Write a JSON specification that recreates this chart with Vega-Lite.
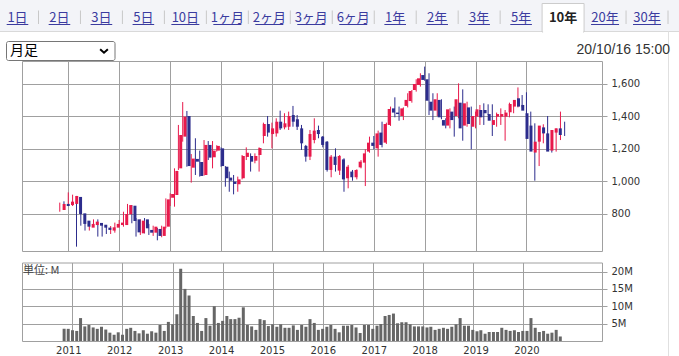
{
  "$schema": "https://vega.github.io/schema/vega-lite/v6.json",
  "width": 679,
  "height": 356,
  "autosize": {"type": "none"},
  "padding": 0,
  "background": "#ffffff",
  "config": {
    "view": {"stroke": null},
    "axis": {"domainColor": "#a0a0a0", "gridColor": "#a0a0a0", "tickColor": "#a0a0a0", "labelColor": "#333333", "labelFont": "DejaVu Sans", "labelFontSize": 10, "domainWidth": 1, "gridWidth": 1, "tickWidth": 1},
    "text": {"font": "Noto Sans CJK JP"}
  },
  "datasets": {
    "tabs": [
      {"label": "1日"}, {"label": "2日"}, {"label": "3日"}, {"label": "5日"}, {"label": "10日"},
      {"label": "1ヶ月"}, {"label": "2ヶ月"}, {"label": "3ヶ月"}, {"label": "6ヶ月"},
      {"label": "1年"}, {"label": "2年"}, {"label": "3年"}, {"label": "5年"}, {"label": "10年"}, {"label": "20年"}, {"label": "30年"}
    ],
    "candles": [
      {"d": "2010/11/01", "o": 825, "h": 870, "l": 814, "c": 862, "v": 3.5},
      {"d": "2010/12/01", "o": 862, "h": 878, "l": 841, "c": 849, "v": 3.5},
      {"d": "2011/01/01", "o": 855, "h": 933, "l": 849, "c": 876, "v": 3.1},
      {"d": "2011/02/01", "o": 862, "h": 919, "l": 849, "c": 911, "v": 2.9},
      {"d": "2011/03/01", "o": 905, "h": 911, "l": 599, "c": 800, "v": 6.6},
      {"d": "2011/04/01", "o": 804, "h": 819, "l": 728, "c": 739, "v": 4.2},
      {"d": "2011/05/01", "o": 759, "h": 767, "l": 698, "c": 722, "v": 4.6},
      {"d": "2011/06/01", "o": 716, "h": 747, "l": 698, "c": 739, "v": 3.9},
      {"d": "2011/07/01", "o": 732, "h": 767, "l": 726, "c": 753, "v": 3.5},
      {"d": "2011/08/01", "o": 745, "h": 767, "l": 661, "c": 728, "v": 4.1},
      {"d": "2011/09/01", "o": 734, "h": 743, "l": 661, "c": 716, "v": 3.3},
      {"d": "2011/10/01", "o": 716, "h": 728, "l": 677, "c": 702, "v": 2.4},
      {"d": "2011/11/01", "o": 698, "h": 726, "l": 677, "c": 718, "v": 1.8},
      {"d": "2011/12/01", "o": 716, "h": 747, "l": 685, "c": 739, "v": 2.5},
      {"d": "2012/01/01", "o": 732, "h": 763, "l": 722, "c": 747, "v": 1.8},
      {"d": "2012/02/01", "o": 732, "h": 814, "l": 722, "c": 800, "v": 3.5},
      {"d": "2012/03/01", "o": 798, "h": 862, "l": 788, "c": 855, "v": 3.8},
      {"d": "2012/04/01", "o": 851, "h": 855, "l": 743, "c": 757, "v": 2.9},
      {"d": "2012/05/01", "o": 767, "h": 775, "l": 661, "c": 687, "v": 2.2},
      {"d": "2012/06/01", "o": 681, "h": 767, "l": 671, "c": 759, "v": 3.1},
      {"d": "2012/07/01", "o": 767, "h": 775, "l": 681, "c": 712, "v": 2.1},
      {"d": "2012/08/01", "o": 702, "h": 739, "l": 671, "c": 685, "v": 2.8},
      {"d": "2012/09/01", "o": 685, "h": 728, "l": 665, "c": 722, "v": 2.4},
      {"d": "2012/10/01", "o": 708, "h": 714, "l": 638, "c": 665, "v": 4.6},
      {"d": "2012/11/01", "o": 665, "h": 728, "l": 657, "c": 722, "v": 2.9},
      {"d": "2012/12/01", "o": 722, "h": 896, "l": 712, "c": 890, "v": 5.5},
      {"d": "2013/01/01", "o": 900, "h": 927, "l": 849, "c": 923, "v": 4.8},
      {"d": "2013/02/01", "o": 917, "h": 1081, "l": 845, "c": 1065, "v": 7.7},
      {"d": "2013/03/01", "o": 1081, "h": 1348, "l": 1071, "c": 1286, "v": 20.8},
      {"d": "2013/04/01", "o": 1276, "h": 1489, "l": 1245, "c": 1399, "v": 15.0},
      {"d": "2013/05/01", "o": 1403, "h": 1434, "l": 1091, "c": 1095, "v": 13.1},
      {"d": "2013/06/01", "o": 1085, "h": 1169, "l": 993, "c": 1141, "v": 7.2},
      {"d": "2013/07/01", "o": 1139, "h": 1266, "l": 1040, "c": 1122, "v": 5.2},
      {"d": "2013/08/01", "o": 1120, "h": 1190, "l": 1030, "c": 1034, "v": 2.9},
      {"d": "2013/09/01", "o": 1040, "h": 1255, "l": 1036, "c": 1225, "v": 6.6},
      {"d": "2013/10/01", "o": 1225, "h": 1249, "l": 1132, "c": 1147, "v": 4.4},
      {"d": "2013/11/01", "o": 1149, "h": 1249, "l": 1081, "c": 1190, "v": 10.0},
      {"d": "2013/12/01", "o": 1190, "h": 1223, "l": 1184, "c": 1219, "v": 5.2},
      {"d": "2014/01/01", "o": 1204, "h": 1210, "l": 1091, "c": 1095, "v": 5.8},
      {"d": "2014/02/01", "o": 1091, "h": 1095, "l": 968, "c": 1020, "v": 7.2},
      {"d": "2014/03/01", "o": 1024, "h": 1061, "l": 937, "c": 1005, "v": 6.3},
      {"d": "2014/04/01", "o": 999, "h": 1040, "l": 921, "c": 985, "v": 6.3},
      {"d": "2014/05/01", "o": 983, "h": 1030, "l": 937, "c": 1013, "v": 6.7},
      {"d": "2014/06/01", "o": 1020, "h": 1163, "l": 1013, "c": 1157, "v": 9.7},
      {"d": "2014/07/01", "o": 1151, "h": 1210, "l": 1132, "c": 1177, "v": 4.6},
      {"d": "2014/08/01", "o": 1157, "h": 1173, "l": 1061, "c": 1122, "v": 4.2},
      {"d": "2014/09/01", "o": 1128, "h": 1173, "l": 1112, "c": 1157, "v": 3.2},
      {"d": "2014/10/01", "o": 1163, "h": 1210, "l": 1061, "c": 1206, "v": 6.3},
      {"d": "2014/11/01", "o": 1280, "h": 1362, "l": 1235, "c": 1354, "v": 6.0},
      {"d": "2014/12/01", "o": 1354, "h": 1403, "l": 1276, "c": 1301, "v": 4.3},
      {"d": "2015/01/01", "o": 1292, "h": 1362, "l": 1204, "c": 1327, "v": 4.8},
      {"d": "2015/02/01", "o": 1296, "h": 1389, "l": 1276, "c": 1368, "v": 4.1},
      {"d": "2015/03/01", "o": 1368, "h": 1436, "l": 1317, "c": 1327, "v": 4.8},
      {"d": "2015/04/01", "o": 1333, "h": 1420, "l": 1321, "c": 1358, "v": 3.8},
      {"d": "2015/05/01", "o": 1337, "h": 1430, "l": 1317, "c": 1403, "v": 3.8},
      {"d": "2015/06/01", "o": 1409, "h": 1465, "l": 1337, "c": 1368, "v": 4.5},
      {"d": "2015/07/01", "o": 1383, "h": 1409, "l": 1317, "c": 1337, "v": 3.2},
      {"d": "2015/08/01", "o": 1327, "h": 1348, "l": 1194, "c": 1235, "v": 4.6},
      {"d": "2015/09/01", "o": 1219, "h": 1225, "l": 1122, "c": 1153, "v": 4.1},
      {"d": "2015/10/01", "o": 1153, "h": 1317, "l": 1132, "c": 1292, "v": 6.3},
      {"d": "2015/11/01", "o": 1255, "h": 1389, "l": 1235, "c": 1313, "v": 5.2},
      {"d": "2015/12/01", "o": 1317, "h": 1344, "l": 1266, "c": 1292, "v": 3.2},
      {"d": "2016/01/01", "o": 1276, "h": 1280, "l": 1210, "c": 1225, "v": 3.5},
      {"d": "2016/02/01", "o": 1245, "h": 1249, "l": 1061, "c": 1071, "v": 4.1},
      {"d": "2016/03/01", "o": 1071, "h": 1163, "l": 1026, "c": 1153, "v": 4.6},
      {"d": "2016/04/01", "o": 1153, "h": 1204, "l": 1061, "c": 1102, "v": 3.5},
      {"d": "2016/05/01", "o": 1067, "h": 1163, "l": 1040, "c": 1157, "v": 2.5},
      {"d": "2016/06/01", "o": 1136, "h": 1143, "l": 937, "c": 1013, "v": 4.4},
      {"d": "2016/07/01", "o": 1020, "h": 1102, "l": 958, "c": 1091, "v": 4.4},
      {"d": "2016/08/01", "o": 1061, "h": 1071, "l": 1005, "c": 1026, "v": 4.6},
      {"d": "2016/09/01", "o": 1026, "h": 1075, "l": 1013, "c": 1071, "v": 3.9},
      {"d": "2016/10/01", "o": 1087, "h": 1132, "l": 1081, "c": 1122, "v": 2.3},
      {"d": "2016/11/01", "o": 1116, "h": 1198, "l": 972, "c": 1173, "v": 4.6},
      {"d": "2016/12/01", "o": 1184, "h": 1276, "l": 1177, "c": 1239, "v": 4.6},
      {"d": "2017/01/01", "o": 1239, "h": 1280, "l": 1198, "c": 1219, "v": 3.5},
      {"d": "2017/02/01", "o": 1204, "h": 1313, "l": 1153, "c": 1296, "v": 4.4},
      {"d": "2017/03/01", "o": 1301, "h": 1368, "l": 1210, "c": 1225, "v": 4.9},
      {"d": "2017/04/01", "o": 1239, "h": 1362, "l": 1231, "c": 1354, "v": 7.2},
      {"d": "2017/05/01", "o": 1348, "h": 1461, "l": 1342, "c": 1446, "v": 7.5},
      {"d": "2017/06/01", "o": 1450, "h": 1518, "l": 1395, "c": 1424, "v": 7.9},
      {"d": "2017/07/01", "o": 1424, "h": 1461, "l": 1374, "c": 1415, "v": 5.1},
      {"d": "2017/08/01", "o": 1403, "h": 1456, "l": 1378, "c": 1450, "v": 5.4},
      {"d": "2017/09/01", "o": 1465, "h": 1543, "l": 1456, "c": 1502, "v": 5.4},
      {"d": "2017/10/01", "o": 1495, "h": 1563, "l": 1485, "c": 1557, "v": 4.8},
      {"d": "2017/11/01", "o": 1563, "h": 1629, "l": 1553, "c": 1600, "v": 4.2},
      {"d": "2017/12/01", "o": 1594, "h": 1666, "l": 1584, "c": 1635, "v": 4.2},
      {"d": "2018/01/01", "o": 1655, "h": 1707, "l": 1620, "c": 1625, "v": 4.2},
      {"d": "2018/02/01", "o": 1629, "h": 1666, "l": 1409, "c": 1497, "v": 3.9},
      {"d": "2018/03/01", "o": 1491, "h": 1543, "l": 1378, "c": 1436, "v": 4.1},
      {"d": "2018/04/01", "o": 1436, "h": 1543, "l": 1403, "c": 1506, "v": 3.2},
      {"d": "2018/05/01", "o": 1502, "h": 1506, "l": 1383, "c": 1395, "v": 3.5},
      {"d": "2018/06/01", "o": 1378, "h": 1389, "l": 1327, "c": 1344, "v": 3.8},
      {"d": "2018/07/01", "o": 1344, "h": 1450, "l": 1327, "c": 1444, "v": 3.5},
      {"d": "2018/08/01", "o": 1430, "h": 1461, "l": 1276, "c": 1378, "v": 4.1},
      {"d": "2018/09/01", "o": 1403, "h": 1604, "l": 1389, "c": 1506, "v": 4.8},
      {"d": "2018/10/01", "o": 1485, "h": 1567, "l": 1251, "c": 1327, "v": 6.6},
      {"d": "2018/11/01", "o": 1344, "h": 1491, "l": 1337, "c": 1481, "v": 4.4},
      {"d": "2018/12/01", "o": 1456, "h": 1461, "l": 1198, "c": 1354, "v": 4.4},
      {"d": "2019/01/01", "o": 1337, "h": 1430, "l": 1327, "c": 1403, "v": 3.2},
      {"d": "2019/02/01", "o": 1399, "h": 1471, "l": 1348, "c": 1444, "v": 2.8},
      {"d": "2019/03/01", "o": 1440, "h": 1481, "l": 1348, "c": 1395, "v": 3.1},
      {"d": "2019/04/01", "o": 1440, "h": 1475, "l": 1409, "c": 1420, "v": 2.1},
      {"d": "2019/05/01", "o": 1415, "h": 1475, "l": 1280, "c": 1374, "v": 2.6},
      {"d": "2019/06/01", "o": 1348, "h": 1424, "l": 1337, "c": 1378, "v": 2.6},
      {"d": "2019/07/01", "o": 1399, "h": 1450, "l": 1348, "c": 1415, "v": 2.6},
      {"d": "2019/08/01", "o": 1399, "h": 1440, "l": 1251, "c": 1415, "v": 3.8},
      {"d": "2019/09/01", "o": 1399, "h": 1485, "l": 1395, "c": 1424, "v": 3.2},
      {"d": "2019/10/01", "o": 1426, "h": 1485, "l": 1420, "c": 1477, "v": 2.9},
      {"d": "2019/11/01", "o": 1461, "h": 1579, "l": 1456, "c": 1502, "v": 3.1},
      {"d": "2019/12/01", "o": 1512, "h": 1532, "l": 1456, "c": 1461, "v": 2.6},
      {"d": "2020/01/01", "o": 1471, "h": 1549, "l": 1409, "c": 1436, "v": 2.9},
      {"d": "2020/02/01", "o": 1420, "h": 1430, "l": 1255, "c": 1262, "v": 2.9},
      {"d": "2020/03/01", "o": 1344, "h": 1358, "l": 1005, "c": 1184, "v": 6.6},
      {"d": "2020/04/01", "o": 1178, "h": 1272, "l": 1095, "c": 1245, "v": 3.8},
      {"d": "2020/05/01", "o": 1245, "h": 1352, "l": 1235, "c": 1344, "v": 2.6},
      {"d": "2020/06/01", "o": 1333, "h": 1403, "l": 1272, "c": 1296, "v": 2.9},
      {"d": "2020/07/01", "o": 1296, "h": 1301, "l": 1178, "c": 1184, "v": 2.1},
      {"d": "2020/08/01", "o": 1190, "h": 1327, "l": 1184, "c": 1317, "v": 2.4},
      {"d": "2020/09/01", "o": 1301, "h": 1430, "l": 1255, "c": 1327, "v": 3.2},
      {"d": "2020/10/01", "o": 1327, "h": 1368, "l": 1280, "c": 1286, "v": 1.3}
    ]
  },
  "layer": [
    {
      "data": {"values": [{}]},
      "mark": {"type": "rect", "fill": "#f3f4f8"},
      "encoding": {"x": {"value": 0}, "x2": {"value": 679}, "y": {"value": 0}, "y2": {"value": 31}}
    },
    {
      "data": {"values": [{}]},
      "mark": {"type": "rule", "stroke": "#d9d9d9"},
      "encoding": {"x": {"value": 0}, "x2": {"value": 679}, "y": {"value": 31.5}}
    },
    {
      "data": {"values": [{}]},
      "mark": {"type": "rule", "stroke": "#e0e0e0"},
      "encoding": {"x": {"value": 668.5}, "y": {"value": 31.5}, "y2": {"value": 356}}
    },
    {
      "data": {"name": "tabs"},
      "encoding": {
        "x": {"field": "label", "type": "nominal", "sort": null, "axis": null,
              "scale": {"type": "band", "domain": ["1日", "2日", "3日", "5日", "10日", "1ヶ月", "2ヶ月", "3ヶ月", "6ヶ月", "1年", "2年", "3年", "5年", "10年", "20年", "30年"], "range": [-3.5, 668], "paddingInner": 0, "paddingOuter": 0}}
      },
      "layer": [
        {
          "transform": [{"filter": "datum.label == '10年'"}],
          "mark": {"type": "rect", "fill": "#ffffff", "stroke": "#cccccc"},
          "encoding": {"y": {"value": 3.5}, "y2": {"value": 32}}
        },
        {
          "transform": [{"filter": "datum.label == '10年'"}],
          "mark": {"type": "rule", "stroke": "#ffffff", "strokeWidth": 2, "xOffset": -20, "x2Offset": 20},
          "encoding": {"x2": {"field": "label"}, "y": {"value": 32}}
        },
        {
          "transform": [{"filter": "datum.label != '5年' && datum.label != '10年'"}],
          "mark": {"type": "rule", "stroke": "#c8c8c8", "xOffset": 21},
          "encoding": {"y": {"value": 10.5}, "y2": {"value": 24}}
        },
        {
          "transform": [{"filter": "datum.label != '10年'"}],
          "mark": {"type": "text", "fontSize": 13, "baseline": "middle", "align": "center", "color": "#3b3b9f"},
          "encoding": {"y": {"value": 17.5}, "text": {"field": "label"}}
        },
        {
          "transform": [{"filter": "datum.label == '10年'"}],
          "mark": {"type": "text", "fontSize": 13, "fontWeight": "bold", "baseline": "middle", "align": "center", "color": "#222222"},
          "encoding": {"y": {"value": 17.5}, "text": {"field": "label"}}
        },
        {
          "transform": [{"filter": "length(datum.label) == 2"}],
          "mark": {"type": "rule", "stroke": "#3b3b9f", "xOffset": -10.8, "x2Offset": 10.8},
          "encoding": {"x2": {"field": "label"}, "y": {"value": 24.5}}
        },
        {
          "transform": [{"filter": "length(datum.label) == 3 && datum.label != '10年'"}],
          "mark": {"type": "rule", "stroke": "#3b3b9f", "xOffset": -14, "x2Offset": 14},
          "encoding": {"x2": {"field": "label"}, "y": {"value": 24.5}}
        },
        {
          "transform": [{"filter": "length(datum.label) == 4"}],
          "mark": {"type": "rule", "stroke": "#3b3b9f", "xOffset": -15.7, "x2Offset": 15.7},
          "encoding": {"x2": {"field": "label"}, "y": {"value": 24.5}}
        }
      ]
    },
    {
      "data": {"values": [{}]},
      "mark": {"type": "rect", "fill": "#ffffff", "stroke": "#767676", "cornerRadius": 2},
      "encoding": {"x": {"value": 6.5}, "x2": {"value": 115}, "y": {"value": 41.5}, "y2": {"value": 60.5}}
    },
    {
      "data": {"values": [{}]},
      "mark": {"type": "text", "text": "月足", "align": "left", "baseline": "middle", "fontSize": 14, "color": "#000000"},
      "encoding": {"x": {"value": 10}, "y": {"value": 51}}
    },
    {
      "data": {"values": [{}]},
      "mark": {"type": "point", "shape": "M-1,-0.45L0,0.45L1,-0.45", "filled": false, "stroke": "#000000", "strokeWidth": 2, "size": 60, "opacity": 1},
      "encoding": {"x": {"value": 104}, "y": {"value": 51}}
    },
    {
      "data": {"values": [{}]},
      "mark": {"type": "text", "text": "20/10/16 15:00", "align": "right", "baseline": "middle", "font": "Liberation Sans", "fontSize": 14, "color": "#333333"},
      "encoding": {"x": {"value": 670}, "y": {"value": 50}}
    },
    {
      "data": {"name": "candles"},
      "mark": {"type": "rule", "strokeWidth": 1},
      "encoding": {
        "x": {"field": "d", "type": "temporal",
              "scale": {"type": "time", "domain": [{"year": 2010, "month": 2, "date": 3}, {"year": 2021, "month": 6, "date": 26}], "range": [22, 602], "nice": false},
              "axis": {"orient": "top", "offset": -61, "title": null, "grid": true, "labels": false, "ticks": false, "tickSize": 0, "domain": true,
                       "values": [{"year": 2011, "month": 1, "date": 1}, {"year": 2012, "month": 1, "date": 1}, {"year": 2013, "month": 1, "date": 1}, {"year": 2014, "month": 1, "date": 1}, {"year": 2015, "month": 1, "date": 1}, {"year": 2016, "month": 1, "date": 1}, {"year": 2017, "month": 1, "date": 1}, {"year": 2018, "month": 1, "date": 1}, {"year": 2019, "month": 1, "date": 1}, {"year": 2020, "month": 1, "date": 1}]}},
        "y": {"field": "l", "type": "quantitative",
              "scale": {"domain": [572.3, 1741.5], "range": [251, 61], "nice": false, "zero": false},
              "axis": {"orient": "left", "offset": -22, "title": null, "grid": true, "labels": false, "ticks": false, "tickSize": 0, "domain": true, "values": [800, 1000, 1200, 1400, 1600]}},
        "y2": {"field": "h"},
        "color": {"condition": {"test": "datum.c >= datum.o", "value": "#e8194b"}, "value": "#2c2c8c"}
      }
    },
    {
      "data": {"name": "candles"},
      "mark": {"type": "bar", "size": 3},
      "encoding": {
        "x": {"field": "d", "type": "temporal",
              "scale": {"type": "time", "domain": [{"year": 2010, "month": 2, "date": 3}, {"year": 2021, "month": 6, "date": 26}], "range": [22, 602], "nice": false},
              "axis": {"orient": "bottom", "offset": -105, "title": null, "grid": false, "labels": false, "ticks": false, "tickSize": 0, "domain": true}},
        "y": {"field": "o", "type": "quantitative",
              "scale": {"domain": [572.3, 1741.5], "range": [251, 61], "nice": false, "zero": false},
              "axis": {"orient": "right", "offset": -77, "title": null, "grid": false, "labels": true, "ticks": true, "tickSize": 5, "labelPadding": 4, "domain": true, "format": ",d", "values": [800, 1000, 1200, 1400, 1600]}},
        "y2": {"field": "c"},
        "color": {"condition": {"test": "datum.c >= datum.o", "value": "#e8194b"}, "value": "#2c2c8c"}
      }
    },
    {
      "data": {"name": "candles"},
      "mark": {"type": "bar", "size": 3, "color": "#666666"},
      "encoding": {
        "x": {"field": "d", "type": "temporal",
              "scale": {"type": "time", "domain": [{"year": 2010, "month": 2, "date": 3}, {"year": 2021, "month": 6, "date": 26}], "range": [22, 602], "nice": false},
              "axis": {"orient": "top", "offset": -262.5, "title": null, "grid": true, "labels": false, "ticks": false, "tickSize": 0, "domain": true,
                       "values": [{"year": 2011, "month": 1, "date": 1}, {"year": 2012, "month": 1, "date": 1}, {"year": 2013, "month": 1, "date": 1}, {"year": 2014, "month": 1, "date": 1}, {"year": 2015, "month": 1, "date": 1}, {"year": 2016, "month": 1, "date": 1}, {"year": 2017, "month": 1, "date": 1}, {"year": 2018, "month": 1, "date": 1}, {"year": 2019, "month": 1, "date": 1}, {"year": 2020, "month": 1, "date": 1}]}},
        "y": {"field": "v", "type": "quantitative",
              "scale": {"domain": [0, 22.6], "range": [341, 262.5], "nice": false, "zero": false},
              "axis": {"orient": "left", "offset": -22, "title": null, "grid": true, "labels": false, "ticks": false, "tickSize": 0, "domain": true, "values": [5, 10, 15, 20]}}
      }
    },
    {
      "data": {"values": [{}]},
      "mark": {"type": "text", "text": "単位: M", "align": "left", "baseline": "middle", "dx": 1, "fontSize": 11, "color": "#444444"},
      "encoding": {
        "x": {"datum": {"year": 2010, "month": 2, "date": 3}, "type": "temporal",
              "scale": {"type": "time", "domain": [{"year": 2010, "month": 2, "date": 3}, {"year": 2021, "month": 6, "date": 26}], "range": [22, 602], "nice": false},
              "axis": {"orient": "bottom", "offset": -15, "title": null, "grid": false, "labels": true, "ticks": false, "tickSize": 0, "labelPadding": 4, "domain": true, "format": "%Y",
                       "values": [{"year": 2011, "month": 1, "date": 1}, {"year": 2012, "month": 1, "date": 1}, {"year": 2013, "month": 1, "date": 1}, {"year": 2014, "month": 1, "date": 1}, {"year": 2015, "month": 1, "date": 1}, {"year": 2016, "month": 1, "date": 1}, {"year": 2017, "month": 1, "date": 1}, {"year": 2018, "month": 1, "date": 1}, {"year": 2019, "month": 1, "date": 1}, {"year": 2020, "month": 1, "date": 1}]}},
        "y": {"datum": 20.1, "type": "quantitative",
              "scale": {"domain": [0, 22.6], "range": [341, 262.5], "nice": false, "zero": false},
              "axis": {"orient": "right", "offset": -77, "title": null, "grid": false, "labels": true, "ticks": true, "tickSize": 5, "labelPadding": 4, "domain": true, "values": [5, 10, 15, 20], "labelExpr": "datum.value + 'M'"}}
      }
    }
  ],
  "resolve": {
    "scale": {"x": "independent", "y": "independent"},
    "axis": {"x": "independent", "y": "independent"}
  }
}
